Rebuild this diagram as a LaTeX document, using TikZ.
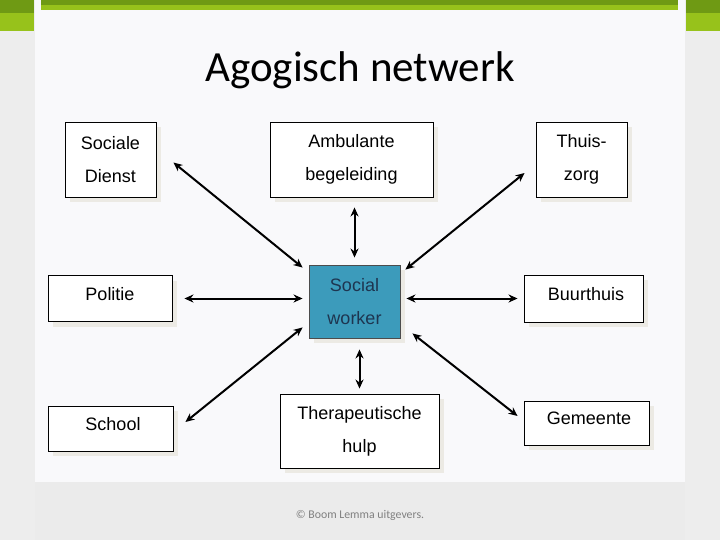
\documentclass[tikz,border=0pt]{standalone}
\usepackage{fontspec}
\setmainfont{Liberation Sans}
\newfontfamily\slidefont{Carlito}
\usepackage{xcolor}
\usetikzlibrary{calc, arrows.meta, shadows}

\definecolor{greenD}{HTML}{6F9A14}
\definecolor{greenL}{HTML}{97C21B}
\definecolor{pagegray}{HTML}{EDEDED}
\definecolor{panel}{HTML}{F9F9FB}
\definecolor{footgray}{HTML}{EBEBEB}
\definecolor{swfill}{HTML}{3C9BBB}
\definecolor{swtext}{HTML}{1E3550}
\definecolor{shadowgray}{HTML}{ECEAE4}

\begin{document}
\begin{tikzpicture}[x=1pt, y=-1pt,
    box/.style = {draw, line width=0.9pt, fill=white, align=center,
                  font=\fontsize{18}{33}\selectfont,
                  drop shadow={shadow xshift=5pt, shadow yshift=-5pt, fill=shadowgray, opacity=1}},
    oneline/.style = {text depth=10pt},
    link/.style = {line width=2pt, {Stealth[length=9pt,width=8pt]}-{Stealth[length=9pt,width=8pt]}}]
        \useasboundingbox (0,0) rectangle (720,540);

        % Slide background
        \fill[pagegray] (0,0) rectangle (720,540);
        \fill[panel] (35,0) rectangle (685,482);
        \fill[footgray] (35,482) rectangle (685,540);
        \fill[greenD] (0,0) rectangle (34,13);
        \fill[greenL] (0,13) rectangle (34,31);
        \fill[greenD] (686,0) rectangle (720,13);
        \fill[greenL] (686,13) rectangle (720,31);
        \fill[greenD] (41,0) rectangle (678,5);
        \fill[greenL] (41,5) rectangle (678,10);

        \node (title) at (360,82) [anchor=base, font=\slidefont\fontsize{43}{43}\selectfont] {Agogisch netwerk};
        \node (copy) at (360,515) [font=\slidefont\fontsize{11.8}{12}\selectfont, text=black!50] {© Boom Lemma uitgevers.};

         % Boxes
         \node[box, minimum width=91, minimum height=75] (sd) at (110.5,159.5) {Sociale\\Dienst};
         \node[box, minimum width=163, minimum height=75] (amb) at (351.5,159.5) {Ambulante\\begeleiding};
         \node[box, minimum width=91, minimum height=75] (thuis) at (581.5,159.5) {Thuis-\\zorg};
         \node[box, oneline, minimum width=124, minimum height=46] (pol) at (110,298.5) {Politie};
         \node[box, oneline, minimum width=119, minimum height=47] (buur) at (583.5,298.5) {\hspace{5pt}Buurthuis};
         \node[box, oneline, minimum width=125, minimum height=45] (school) at (110.5,428.5) {\hspace{5pt}School};
         \node[box, minimum width=159, minimum height=74] (ther) at (359.5,431) {Therapeutische\\hulp};
         \node[box, oneline, minimum width=125, minimum height=44] (gem) at (586.5,423) {\hspace{5pt}Gemeente};

         % Social worker
         \node[box, draw=black!70, fill=swfill, text=swtext, minimum width=91, minimum height=73] (sw) at (354.5,301.5) {Social\\worker};

         % Arrows
         \draw[link] ([xshift=17pt,yshift=-3pt]sd.east) -- ([xshift=-6pt,yshift=-3pt]sw.north west);
         \draw[link, shorten <=7pt, shorten >=10pt] (sw.north) -- (sw.north |- amb.south);
         \draw[link] ([xshift=-11pt,yshift=-13.5pt]thuis.west) -- ([xshift=5pt,yshift=-5pt]sw.north east);
         \draw[link, shorten <=12pt, shorten >=6pt] (pol.east) -- (pol.east -| sw.west);
         \draw[link, shorten <=6pt, shorten >=6pt] (buur.west -| sw.east) -- (buur.west);
         \draw[link] ([xshift=12pt,yshift=6.5pt]school.east) -- ([xshift=-6pt,yshift=11pt]sw.south west);
         \draw[link, shorten <=5pt, shorten >=11pt] (ther.north) -- (ther.north |- sw.south);
         \draw[link] ([xshift=-6pt,yshift=7pt]gem.west) -- ([xshift=12pt,yshift=5pt]sw.south east);
    \end{tikzpicture}
\end{document}
